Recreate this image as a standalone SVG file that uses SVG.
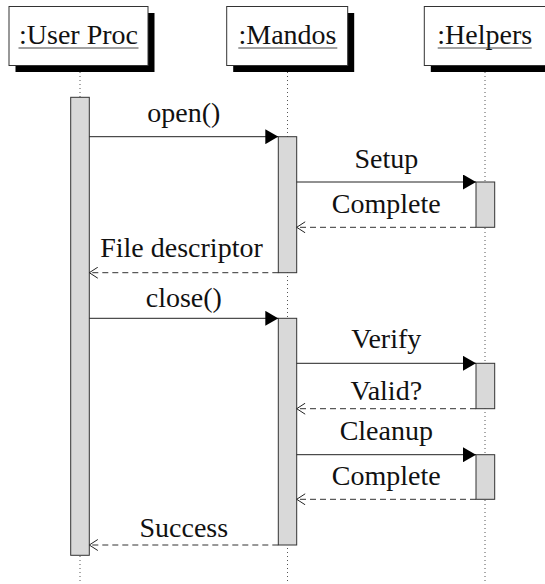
<svg xmlns="http://www.w3.org/2000/svg" width="545" height="584" viewBox="0 0 545 584">
<defs>
<style>
text{font-size:28px;fill:#111;text-anchor:middle}
.hdr{fill:#fff;stroke:#333;stroke-width:1}
.shadow{fill:#000}
.ul{stroke:#444;stroke-width:1.2}
.life{stroke:#555;stroke-width:1;stroke-dasharray:1 3;fill:none}
.bar{fill:#d9d9d9;stroke:#333;stroke-width:1}
.call{stroke:#222;stroke-width:1;fill:none}
.ret{stroke:#333;stroke-width:1;stroke-dasharray:6 4;fill:none}
</style>
<marker id="solid" viewBox="0 0 13 15" refX="13" refY="7.5" markerWidth="13" markerHeight="15" markerUnits="userSpaceOnUse" orient="auto">
<path d="M0,0 L13,7.5 L0,15 Z" fill="#000"/>
</marker>
<marker id="open" viewBox="0 0 10 12" refX="9.5" refY="6" markerWidth="10" markerHeight="12" markerUnits="userSpaceOnUse" orient="auto">
<path d="M1,0.5 L9.5,6 L1,11.5" fill="none" stroke="#222" stroke-width="1"/>
</marker>
</defs>
<rect width="545" height="584" fill="#fff"/>

<g id="lifelines">
<line class="life" x1="80" y1="72" x2="80" y2="584"/>
<line class="life" x1="287.5" y1="72" x2="287.5" y2="584"/>
<line class="life" x1="485" y1="72" x2="485" y2="584"/>
</g>

<g font-family="'Liberation Serif', 'Times New Roman', 'DejaVu Serif', serif">
<g id="user-proc">
<rect class="shadow" x="15.5" y="13" width="139" height="59"/>
<rect class="hdr" x="9" y="6.5" width="139" height="59"/>
<text x="78.5" y="44">:User Proc</text>
<line class="ul" x1="18.5" y1="48" x2="138.5" y2="48"/>
<rect class="bar" x="70.7" y="97.3" width="18.6" height="458"/>
</g>

<g id="mandos">
<rect class="shadow" x="233.2" y="13" width="121" height="59"/>
<rect class="hdr" x="226.7" y="6.5" width="121" height="59"/>
<text x="287.5" y="44">:Mandos</text>
<line class="ul" x1="238.3" y1="48" x2="337.3" y2="48"/>
<rect class="bar" x="278.3" y="136.7" width="18.4" height="136"/>
<rect class="bar" x="278.3" y="318.3" width="18.4" height="226.7"/>
</g>

<g id="helpers">
<rect class="shadow" x="430.8" y="13" width="122" height="59"/>
<rect class="hdr" x="424.3" y="6.5" width="122" height="59"/>
<text x="484.7" y="44">:Helpers</text>
<line class="ul" x1="437.7" y1="48" x2="531.7" y2="48"/>
<rect class="bar" x="476" y="182" width="18.7" height="45.3"/>
<rect class="bar" x="476" y="363.3" width="18.7" height="45.4"/>
<rect class="bar" x="476" y="454.7" width="18.7" height="44.6"/>
</g>

<g id="connectors">
<line class="call" x1="89.3" y1="136.7" x2="278.3" y2="136.7" marker-end="url(#solid)"/>
<text x="183.8" y="122">open()</text>
<line class="call" x1="296.7" y1="182" x2="476" y2="182" marker-end="url(#solid)"/>
<text x="386.3" y="168">Setup</text>
<line class="ret" x1="476" y1="227.3" x2="296.7" y2="227.3" marker-end="url(#open)"/>
<text x="386.3" y="213">Complete</text>
<line class="ret" x1="278.3" y1="272.7" x2="89.3" y2="272.7" marker-end="url(#open)"/>
<text x="181.5" y="257">File descriptor</text>
<line class="call" x1="89.3" y1="318.3" x2="278.3" y2="318.3" marker-end="url(#solid)"/>
<text x="183.8" y="307">close()</text>
<line class="call" x1="296.7" y1="363.3" x2="476" y2="363.3" marker-end="url(#solid)"/>
<text x="386.3" y="348">Verify</text>
<line class="ret" x1="476" y1="408.7" x2="296.7" y2="408.7" marker-end="url(#open)"/>
<text x="386.3" y="400">Valid?</text>
<line class="call" x1="296.7" y1="454.7" x2="476" y2="454.7" marker-end="url(#solid)"/>
<text x="386.3" y="440">Cleanup</text>
<line class="ret" x1="476" y1="499.3" x2="296.7" y2="499.3" marker-end="url(#open)"/>
<text x="386.3" y="485">Complete</text>
<line class="ret" x1="278.3" y1="545" x2="89.3" y2="545" marker-end="url(#open)"/>
<text x="183.8" y="537">Success</text>
</g>
</g>
</svg>
